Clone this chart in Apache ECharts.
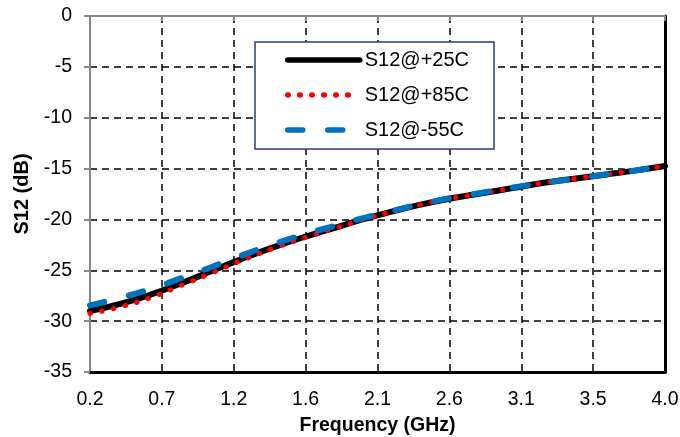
<!DOCTYPE html>
<html>
<head>
<meta charset="utf-8">
<script src="https://cdn.jsdelivr.net/npm/echarts@6/dist/echarts.min.js"></script>
<style>
  html, body { margin: 0; padding: 0; background: #fff; }
  #chart { width: 680px; height: 437px; }
</style>
</head>
<body>
<div id="chart"></div>
<script>
// Frequency sweep points (GHz)
const freqGHz = [0.2, 0.4, 0.6, 0.8, 1.0, 1.2, 1.4, 1.6, 1.8, 2.0,
                 2.2, 2.4, 2.6, 2.8, 3.0, 3.2, 3.4, 3.6, 3.8, 4.0];
// S12 in dB at each temperature
const s12At25C = [-29.0, -28.3, -27.4, -26.3, -25.1, -23.9, -22.8, -21.8, -20.9, -20.0,
                  -19.2, -18.5, -17.9, -17.4, -16.9, -16.4, -16.0, -15.6, -15.2, -14.75];
const s12At85C = [-29.25, -28.6, -27.7, -26.5, -25.3, -24.05, -22.9, -21.9, -20.95, -20.05,
                  -19.2, -18.5, -17.9, -17.4, -16.9, -16.4, -16.0, -15.6, -15.2, -14.75];
const s12AtM55C = [-28.45, -27.7, -26.85, -25.8, -24.7, -23.55, -22.5, -21.55, -20.7, -19.9,
                   -19.15, -18.45, -17.85, -17.35, -16.85, -16.4, -16.0, -15.6, -15.2, -14.7];
// Frequency axis ticks and their printed labels
const xTickValues = [0.2, 0.675, 1.15, 1.625, 2.1, 2.575, 3.05, 3.525, 4.0];
const xTickLabels = ['0.2', '0.7', '1.2', '1.6', '2.1', '2.6', '3.1', '3.5', '4.0'];
const seriesNames = ['S12@+25C', 'S12@+85C', 'S12@-55C'];

const pairs = ys => freqGHz.map((f, i) => [f, ys[i]]);
const FONT = 'Liberation Sans, Arial, sans-serif';
const gridDash = { color: '#000', width: 1.5, type: [7, 5] };

const chart = echarts.init(document.getElementById('chart'), null, { renderer: 'canvas' });
chart.setOption({
  animation: false,
  backgroundColor: '#fff',
  grid: { left: 90, right: 15, top: 16, bottom: 65, outerBoundsMode: 'none', containLabel: false },
  legend: {
    orient: 'vertical',
    left: 255, top: 42,
    padding: [8, 25, 9, 30],
    itemWidth: 72, itemHeight: 20, itemGap: 15,
    backgroundColor: '#fff',
    borderColor: '#243F7A', borderWidth: 1.5,
    itemStyle: { color: 'rgba(0,0,0,0)', borderWidth: 0 },
    lineStyle: { width: 5.5 },
    textStyle: { fontFamily: FONT, fontSize: 20, color: '#000' },
    data: seriesNames
  },
  xAxis: [{
    type: 'value', position: 'bottom', min: 0.2, max: 4.0,
    name: 'Frequency (GHz)', nameLocation: 'middle', nameGap: 44,
    nameTextStyle: { fontFamily: FONT, fontSize: 19.5, fontWeight: 'bold', color: '#000' },
    axisLine: { show: true, onZero: false, lineStyle: { color: '#000', width: 3 } },
    axisTick: { show: false, customValues: xTickValues },
    axisLabel: {
      customValues: xTickValues, margin: 18,
      fontFamily: FONT, fontSize: 19.5, color: '#000',
      formatter: v => xTickLabels[xTickValues.indexOf(v)]
    },
    splitLine: { show: true, lineStyle: gridDash }
  }, {
    type: 'value', position: 'top', min: 0.2, max: 4.0,
    axisLine: { show: true, onZero: false, lineStyle: { color: '#868686', width: 2 } },
    axisTick: { show: true, inside: true, length: 5, customValues: xTickValues,
                lineStyle: { color: '#868686', width: 2 } },
    axisLabel: { show: false },
    splitLine: { show: false }
  }],
  yAxis: [{
    type: 'value', position: 'left', min: -35, max: 0, interval: 5,
    name: 'S12 (dB)', nameLocation: 'middle', nameGap: 53, nameRotate: 90,
    nameTextStyle: { fontFamily: FONT, fontSize: 20, fontWeight: 'bold', color: '#000' },
    axisLine: { show: true, onZero: false, lineStyle: { color: '#868686', width: 2 } },
    axisTick: { show: true, length: 6, lineStyle: { color: '#868686', width: 2 } },
    axisLabel: { margin: 18, fontFamily: FONT, fontSize: 19.5, color: '#000' },
    splitLine: { show: true, lineStyle: gridDash }
  }, {
    type: 'value', position: 'right', min: -35, max: 0, interval: 5,
    axisLine: { show: true, onZero: false, lineStyle: { color: '#000', width: 3 } },
    axisTick: { show: false }, axisLabel: { show: false }, splitLine: { show: false }
  }],
  series: [{
    name: seriesNames[0], type: 'line', smooth: true, symbol: 'none',
    data: pairs(s12At25C),
    lineStyle: { color: '#000', width: 6, cap: 'round' },
    itemStyle: { color: '#000' }
  }, {
    name: seriesNames[1], type: 'line', smooth: true, symbol: 'none',
    data: pairs(s12At85C),
    lineStyle: { color: '#FF0000', width: 5, type: [0.5, 11.5], cap: 'round' },
    itemStyle: { color: '#FF0000' }
  }, {
    name: seriesNames[2], type: 'line', smooth: true, symbol: 'none',
    data: pairs(s12AtM55C),
    lineStyle: { color: '#0070C0', width: 6, type: [15, 25], cap: 'round' },
    itemStyle: { color: '#0070C0' }
  }]
});
</script>
</body>
</html>
